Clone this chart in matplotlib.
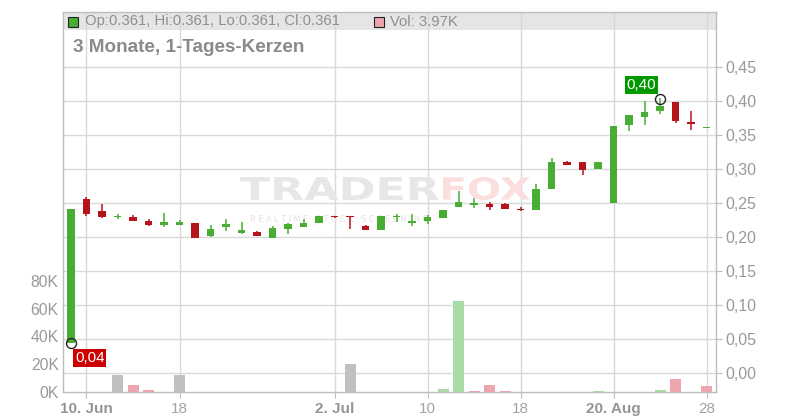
import numpy as np
import matplotlib
matplotlib.use("Agg")
import matplotlib.pyplot as plt
from matplotlib.patches import Rectangle, PathPatch
from matplotlib.textpath import TextPath
from matplotlib.font_manager import FontProperties
from matplotlib.transforms import Affine2D

plt.rcParams['font.family'] = ['Liberation Sans', 'DejaVu Sans']

# daily candles, one per trading day (index 0 .. 41)
opens = [0.044, 0.256, 0.238, 0.229, 0.229, 0.2235, 0.217, 0.218, 0.220, 0.202,
         0.215, 0.206, 0.208, 0.199, 0.212, 0.215, 0.221, 0.231, 0.231, 0.216,
         0.211, 0.229, 0.221, 0.2235, 0.2284, 0.2446, 0.248, 0.2485, 0.2485, 0.2412,
         0.240, 0.271, 0.3108, 0.310, 0.3005, 0.2505, 0.365, 0.377, 0.385, 0.3985,
         0.368, 0.361]
highs = [0.241, 0.259, 0.249, 0.234, 0.232, 0.226, 0.2355, 0.225, 0.2206, 0.2176,
         0.2265, 0.222, 0.2088, 0.216, 0.221, 0.2265, 0.231, 0.231, 0.231, 0.2176,
         0.231, 0.2333, 0.2338, 0.2324, 0.2397, 0.2676, 0.257, 0.2515, 0.250, 0.2435,
         0.278, 0.316, 0.3115, 0.310, 0.310, 0.363, 0.379, 0.400, 0.404, 0.3985,
         0.385, 0.361]
lows = [0.044, 0.231, 0.228, 0.227, 0.224, 0.2166, 0.215, 0.218, 0.199, 0.2005,
        0.209, 0.205, 0.202, 0.199, 0.205, 0.215, 0.221, 0.228, 0.212, 0.211,
        0.211, 0.2225, 0.2166, 0.2196, 0.2284, 0.2446, 0.242, 0.240, 0.2407, 0.2387,
        0.240, 0.271, 0.3064, 0.291, 0.3005, 0.2505, 0.356, 0.365, 0.381, 0.367,
        0.357, 0.361]
closes = [0.241, 0.234, 0.230, 0.231, 0.224, 0.218, 0.222, 0.222, 0.199, 0.212,
          0.2196, 0.210, 0.202, 0.213, 0.2196, 0.221, 0.231, 0.229, 0.229, 0.211,
          0.231, 0.2313, 0.2235, 0.2294, 0.2397, 0.2515, 0.2488, 0.2436, 0.2407, 0.2405,
          0.2706, 0.310, 0.3064, 0.299, 0.310, 0.363, 0.379, 0.384, 0.3926, 0.371,
          0.3675, 0.361]

# volume in shares, direction vs previous close
volumes = [0, 0, 0, 12300, 5000, 1500, 0, 12300, 0, 0,
           0, 0, 0, 0, 0, 0, 0, 0, 20200, 0,
           0, 0, 0, 0, 2200, 65600, 700, 5000, 700, 0,
           0, 0, 0, 0, 700, 0, 0, 0, 1500, 9400,
           0, 3970]
vol_dir = ['flat', 'flat', 'flat', 'flat', 'down', 'down', 'flat', 'flat', 'flat', 'flat',
           'flat', 'flat', 'flat', 'flat', 'flat', 'flat', 'flat', 'flat', 'flat', 'flat',
           'flat', 'flat', 'flat', 'flat', 'up', 'up', 'down', 'down', 'down', 'flat',
           'flat', 'flat', 'flat', 'flat', 'up', 'flat', 'flat', 'flat', 'up', 'down',
           'flat', 'down']

x_tick_pos = [1, 7, 17, 23, 29, 35, 41]
x_tick_labels = ['10. Jun', '18', '2. Jul', '10', '18', '20. Aug', '28']
x_tick_bold = [True, False, True, False, False, True, False]

price_ticks = [0.00, 0.05, 0.10, 0.15, 0.20, 0.25, 0.30, 0.35, 0.40, 0.45]
price_tick_labels = ['0,00', '0,05', '0,10', '0,15', '0,20', '0,25', '0,30', '0,35', '0,40', '0,45']
vol_ticks = [0, 20000, 40000, 60000, 80000]
vol_tick_labels = ['0K', '20K', '40K', '60K', '80K']

low_mark = (0, 0.044, '0,04')
high_mark = (38, 0.403, '0,40')

GREEN = '#47ae33'
RED = '#b5141a'
VOL_COLORS = {'up': '#a9dca5', 'down': '#eea6ae', 'flat': '#c0c0c0'}
GRID = '#d9d9d9'
FRAME = '#bdbdbd'
TXT = '#999999'

W, H = 800, 420
fig = plt.figure(figsize=(W / 100, H / 100), dpi=100)
L, R, T, B = 63, 716, 12, 392
ax = fig.add_axes([L / W, 1 - B / H, (R - L) / W, (B - T) / H])
ax2 = ax.twinx()

n = len(opens)
ax.set_xlim(-0.516, 41.61)
ax.set_ylim(-0.0279, 0.5309)


def logo_text(text, x0, x1, y_top, y_bot, color, weight='bold'):
    # stretch a text path into a pixel box (image coords, origin top-left)
    tp = TextPath((0, 0), text, size=10, prop=FontProperties(family='DejaVu Sans', weight=weight))
    ext = tp.get_extents()
    sx = (x1 - x0) / ext.width
    sy = (y_bot - y_top) / ext.height
    tr = Affine2D().translate(-ext.x0, -ext.y0).scale(sx, sy).translate(x0, H - y_bot)
    ax.add_patch(PathPatch(tp, transform=tr, fc=color, ec='none', zorder=0.6))


# header band
ax.add_patch(Rectangle((0, (B - 30) / (B - T)), 1, 1 - (B - 30) / (B - T),
                       transform=ax.transAxes, fc='#e5e5e5', ec='none', zorder=0.2))

# watermark
logo_text('TRADER', 240, 439, 177, 200, '#e7e7e7')
logo_text('FOX', 443, 530, 177, 200, '#fbdede')
logo_text('R E A L T I M E   S T O C K   S C R E E N I N G', 251, 428, 215, 222, '#e2e2e2', 'normal')

# candles
min_body = 0.002
for i in range(n):
    o, h, l, c = opens[i], highs[i], lows[i], closes[i]
    col = GREEN if c >= o else RED
    ax.vlines(i, l, h, color=col, lw=1.1, zorder=2)
    body = abs(c - o)
    if body < min_body:
        bottom = (o + c) / 2 - min_body / 2
        body = min_body
    else:
        bottom = min(o, c)
    ax.bar(i, body, bottom=bottom, width=0.46, color=col, zorder=3)

# grid and axes styling
ax.yaxis.tick_right()
ax.set_yticks(price_ticks)
ax.set_yticklabels(price_tick_labels)
ax.set_xticks(x_tick_pos)
ax.set_xticklabels(x_tick_labels)
for lab, bold in zip(ax.get_xticklabels(), x_tick_bold):
    lab.set_fontweight('bold' if bold else 'normal')
    lab.set_color('#959595' if bold else '#a3a3a3')
ax.tick_params(axis='y', which='both', length=4, color=FRAME, labelsize=11.5,
               labelcolor=TXT, pad=3)
ax.tick_params(axis='x', length=4, color=FRAME, labelsize=11, pad=3)
ax.grid(True, color=GRID, lw=1)
ax.set_axisbelow(True)
for sp in ax.spines.values():
    sp.set_color(FRAME)
    sp.set_linewidth(1)

# high / low markers
for (mx, my, txt), off, ha, va, fc in [
        (low_mark, (4, -8), 'left', 'top', '#cc0000'),
        (high_mark, (-4, 7), 'right', 'bottom', '#009900')]:
    ax.plot(mx, my, 'o', ms=7.2, mfc='none', mec='#222222', mew=1, zorder=6)
    ax.annotate(txt, xy=(mx, my), xytext=off, textcoords='offset pixels',
                ha=ha, va=va, color='white', fontsize=11, zorder=7,
                bbox=dict(boxstyle='square,pad=0.12', fc=fc, ec='none'))

# volume on its own scale
ax2.set_ylim(0, 380 / 27.75 * 20000)
ax2.bar(range(n), volumes, width=0.71, color=[VOL_COLORS[d] for d in vol_dir], zorder=1)
ax2.yaxis.tick_left()
ax2.set_yticks(vol_ticks)
ax2.set_yticklabels(vol_tick_labels)
ax2.tick_params(axis='y', length=0, labelsize=11.3, labelcolor=TXT, pad=3)
for sp in ax2.spines.values():
    sp.set_visible(False)
ax2.patch.set_visible(False)

# header texts
fig.patches.append(Rectangle((68 / W, 1 - 27 / H), 10 / W, 10 / H, transform=fig.transFigure,
                             fc=GREEN, ec='#222222', lw=0.8))
fig.text(85 / W, 1 - 21.5 / H, 'Op:0.361, Hi:0.361, Lo:0.361, Cl:0.361',
         fontsize=10.7, color='#8f8f8f', ha='left', va='center')
fig.patches.append(Rectangle((374 / W, 1 - 27 / H), 10 / W, 10 / H, transform=fig.transFigure,
                             fc='#eea6ae', ec='#222222', lw=0.8))
fig.text(390 / W, 1 - 21.5 / H, 'Vol: 3.97K',
         fontsize=10.7, color='#8f8f8f', ha='left', va='center')
fig.text(73 / W, 1 - 48 / H, '3 Monate, 1-Tages-Kerzen',
         fontsize=13.6, fontweight='bold', color='#8a8a8a', ha='left', va='center')

fig.savefig('out.png', dpi=100)
